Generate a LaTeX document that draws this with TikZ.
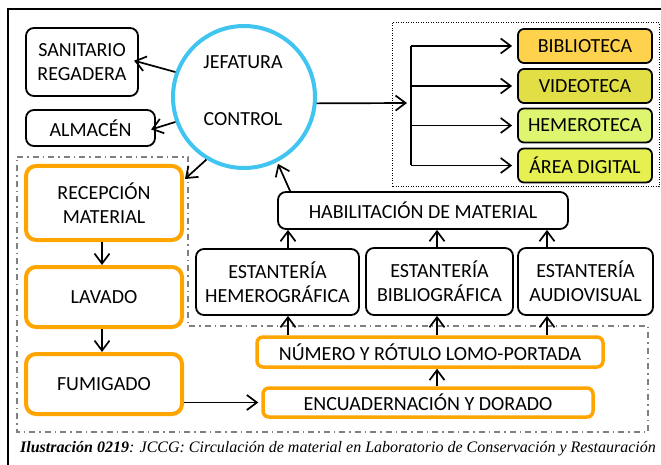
\documentclass[tikz,border=0pt]{standalone}
\usepackage{fontspec}
\setmainfont{Carlito}
\newfontfamily\capfont{Liberation Serif}
\usetikzlibrary{arrows.meta}
\definecolor{ctrlblue}{RGB}{64,196,240}
\definecolor{orng}{RGB}{255,165,0}
\definecolor{cbib}{RGB}{255,210,77}
\definecolor{cvid}{RGB}{225,222,70}
\definecolor{chem}{RGB}{222,245,112}
\definecolor{care}{RGB}{230,240,80}
\definecolor{regiongray}{RGB}{128,128,128}
\tikzset{
  box/.style={draw, line width=1.8pt, rounded corners=8pt, inner sep=0pt, align=center},
  obox/.style={draw=orng, line width=4pt, rounded corners=10pt, inner sep=0pt, align=center},
  cbox/.style={draw, line width=1.8pt, rounded corners=6pt, inner sep=0pt, minimum width=134pt, minimum height=34pt},
  arr/.style={-{Straight Barb[length=10pt,width=15pt]}, line width=1.7pt},
  lbl/.style={inner sep=0pt},
  region/.style={draw=regiongray, line width=1.5pt, dash pattern=on 6pt off 4pt on 1.5pt off 4pt},
  dotbox/.style={draw, line width=1pt, dash pattern=on 1pt off 1.5pt},
}
\begin{document}
\begin{tikzpicture}[x=1pt, y=-1pt, font=\fontsize{20}{24}\selectfont]
\useasboundingbox (0,0) rectangle (661,465);
% outer frame
\draw[line width=1.5pt] (8,470) -- (8,9) -- (665,9);
% regions
\draw[region] (17,157) -- (188,157) -- (188,326) -- (648,326) -- (648,432) -- (17,432) -- cycle;
\draw[dotbox] (392,23) rectangle (659,187);

% nodes
\node[box, minimum width=112pt, minimum height=68pt] (san) at (82,62) {SANITARIO\\REGADERA};
\node[box, minimum width=129pt, minimum height=36pt] (alm) at (90.5,128) {ALMACÉN};
\node[circle, draw=ctrlblue, line width=4pt, minimum size=142pt, inner sep=0pt] (ctrl) at (244,97) {};
\node[lbl] (jef) at (243,62) {JEFATURA};
\node[lbl] (con) at (243,119) {CONTROL};

\node[obox, minimum width=156pt, minimum height=74pt] (rec) at (104,203) {RECEPCIÓN\\MATERIAL};
\node[obox, minimum width=156pt, minimum height=60pt] (lav) at (104,297) {LAVADO};
\node[obox, minimum width=156pt, minimum height=60pt] (fum) at (104,384) {FUMIGADO};

\node[box, minimum width=290pt, minimum height=37pt] (hab) at (423,210.5) {HABILITACIÓN DE MATERIAL};
\node[box, minimum width=163pt, minimum height=66pt] (eh) at (277.5,282) {ESTANTERÍA\\HEMEROGRÁFICA};
\node[box, minimum width=147pt, minimum height=67pt] (eb) at (439.5,281.5) {ESTANTERÍA\\BIBLIOGRÁFICA};
\node[box, minimum width=135pt, minimum height=67pt] (ea) at (585.5,281.5) {ESTANTERÍA\\AUDIOVISUAL};

\node[obox, line width=3.5pt, rounded corners=6pt, minimum width=346pt, minimum height=30pt] (num) at (430,352) {NÚMERO Y RÓTULO LOMO-PORTADA};
\node[obox, line width=3.5pt, rounded corners=6pt, minimum width=330pt, minimum height=29pt] (enc) at (428,402.5) {ENCUADERNACIÓN Y DORADO};

\node[cbox, fill=cbib] (bib) at (585,46) {BIBLIOTECA};
\node[cbox, fill=cvid] (vid) at (585,86) {VIDEOTECA};
\node[cbox, fill=chem] (hem) at (585,125.5) {HEMEROTECA};
\node[cbox, fill=care] (are) at (585,165.5) {ÁREA DIGITAL};

% helper coordinates
\coordinate (c0) at (102,0);
\coordinate (c1) at (288,0);
\coordinate (c2) at (437,0);
\coordinate (c3) at (547,0);
\coordinate (jn) at (411,103);

% connectors
\draw[arr, shorten >=-5pt] (ctrl.160) -- (san.east);
\draw[arr, shorten >=-5pt] (ctrl.200) -- (alm.east);
\draw[arr] (ctrl.239) -- ([yshift=-15pt,xshift=1pt]rec.north east);
\draw[arr, shorten >=4pt] (ctrl.-5) -- (jn);
\draw[line width=1.7pt] (bib.west -| jn) -- (are.west -| jn);
\foreach \b in {bib,vid,hem,are}{
  \draw[arr, shorten >=5pt] (\b.west -| jn) -- (\b.west);
}
\draw[arr, shorten >=2pt] ([xshift=13pt]hab.north west) -- (ctrl.-63);
\draw[arr] (eh.north -| c1) -- (hab.south -| c1);
\draw[arr] (eb.north -| c2) -- (hab.south -| c2);
\draw[arr] (ea.north -| c3) -- (hab.south -| c3);
\draw[arr] (num.north -| c1) -- (eh.south -| c1);
\draw[arr] (num.north -| c2) -- (eb.south -| c2);
\draw[arr] (num.north -| c3) -- (ea.south -| c3);
\draw[arr] (enc.north -| c2) -- (num.south -| c2);
\draw[arr] (rec.south -| c0) -- (lav.north -| c0);
\draw[arr] (lav.south -| c0) -- (fum.north -| c0);
\draw[arr, shorten >=3pt] (enc.west -| fum.east) -- (enc.west);

% caption
\node[lbl, font=\capfont\fontsize{16}{18}\selectfont, anchor=base] (cap) at (338,452)
  {\textbf{\textit{Ilustración 0219}}\textit{: JCCG: Circulación de material en Laboratorio de Conservación y Restauración}};
\end{tikzpicture}
\end{document}
